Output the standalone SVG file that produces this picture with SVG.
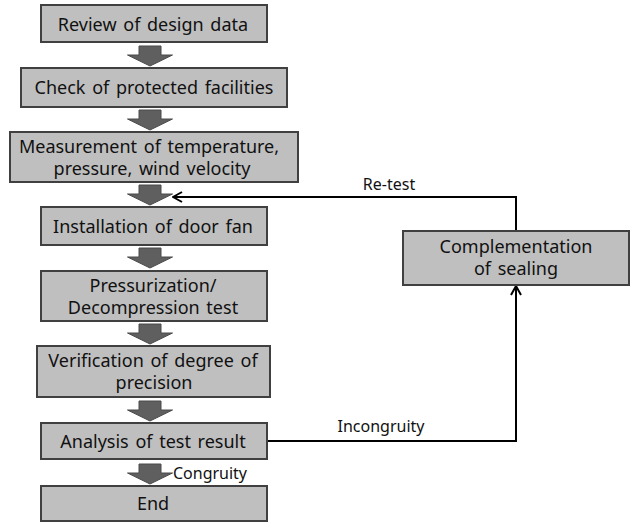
<svg xmlns="http://www.w3.org/2000/svg" width="630" height="523" viewBox="0 0 630 523">
<defs>
<style>
.box{fill:#bfbfbf;stroke:#404040;stroke-width:2}
.t{font-family:"Noto Sans","DejaVu Sans",sans-serif;font-size:18px;word-spacing:2px;fill:#111;text-anchor:middle}
.s{font-family:"Noto Sans","DejaVu Sans",sans-serif;font-size:16px;fill:#111;text-anchor:middle}
.ba{fill:#5f5f5f;stroke:#4a4a4a;stroke-width:1}
.ln{fill:none;stroke:#000;stroke-width:2}
</style>
<path id="barrow" d="M-11,0 H11 V9 H22.5 L0,20 L-22.5,9 H-11 Z"/>
<marker id="ah" viewBox="0 0 12 12" refX="11" refY="6" markerWidth="12" markerHeight="12" markerUnits="userSpaceOnUse" orient="auto">
<path d="M2,1 L11,6 L2,11" fill="none" stroke="#000" stroke-width="2"/>
</marker>
</defs>
<rect width="630" height="523" fill="#fff"/>
<g id="connectors">
<use href="#barrow" class="ba" x="150" y="46"/>
<use href="#barrow" class="ba" x="150" y="110"/>
<use href="#barrow" class="ba" x="150" y="185"/>
<use href="#barrow" class="ba" x="150" y="248"/>
<use href="#barrow" class="ba" x="150" y="324"/>
<use href="#barrow" class="ba" x="150" y="401"/>
<use href="#barrow" class="ba" x="150" y="464"/>
<path class="ln" d="M516,231 V197 H173" marker-end="url(#ah)"/>
<path class="ln" d="M267,441 H516 V286" marker-end="url(#ah)"/>
<text class="s" x="389" y="190">Re-test</text>
<text class="s" x="381" y="432">Incongruity</text>
<text class="s" x="210" y="479">Congruity</text>
</g>
<g id="n1"><rect class="box" x="41" y="5" width="226" height="37"/><text class="t" x="153" y="31">Review of design data</text></g>
<g id="n2"><rect class="box" x="21" y="68" width="266" height="39"/><text class="t" x="154" y="94">Check of protected facilities</text></g>
<g id="n3"><rect class="box" x="10" y="132" width="288" height="50"/><text class="t" x="149" y="153">Measurement of temperature,</text><text class="t" x="152" y="175">pressure, wind velocity</text></g>
<g id="n4"><rect class="box" x="41" y="207" width="226" height="38"/><text class="t" x="153" y="233">Installation of door fan</text></g>
<g id="n5"><rect class="box" x="41" y="271" width="226" height="50"/><text class="t" x="153" y="292">Pressurization/</text><text class="t" x="153" y="314">Decompression test</text></g>
<g id="n6"><rect class="box" x="37" y="346" width="233" height="51"/><text class="t" x="153" y="367">Verification of degree of</text><text class="t" x="154" y="389">precision</text></g>
<g id="n7"><rect class="box" x="41" y="423" width="226" height="36"/><text class="t" x="153" y="448">Analysis of test result</text></g>
<g id="n8"><rect class="box" x="41" y="486" width="226" height="35"/><text class="t" x="153" y="510">End</text></g>
<g id="n9"><rect class="box" x="403" y="231" width="226" height="54"/><text class="t" x="516" y="253">Complementation</text><text class="t" x="516" y="275">of sealing</text></g>
</svg>
